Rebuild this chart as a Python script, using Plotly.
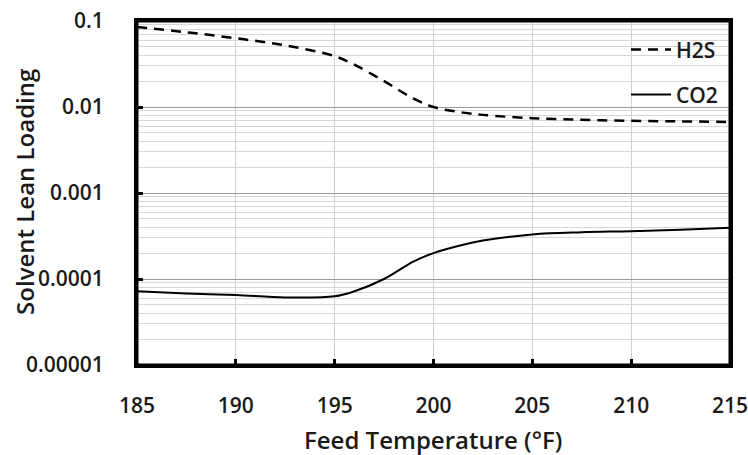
import plotly.graph_objects as go

temps = [185, 187.5, 190, 192.5, 195, 196, 197.5, 199, 200, 201.5, 202.5, 205, 207.5, 210, 212.5, 215]
h2s = [0.085, 0.074, 0.063, 0.052, 0.039, 0.031, 0.020, 0.0125, 0.0100, 0.0086, 0.0081, 0.0074, 0.0071, 0.0069, 0.0068, 0.0067]
co2 = [0.000072, 0.000068, 0.000065, 0.000061, 0.000063, 0.000072, 0.000100, 0.000160, 0.000200, 0.000250, 0.000280, 0.000330, 0.000350, 0.000360, 0.000375, 0.000395]

x_ticks = [185, 190, 195, 200, 205, 210, 215]
y_ticks = [0.00001, 0.0001, 0.001, 0.01, 0.1]
y_labels = ["0.00001", "0.0001", "0.001", "0.01", "0.1"]
x_title = "Feed Temperature (°F)"
y_title = "Solvent Lean Loading"

FAM = "Open Sans"
tickfont = dict(family=FAM, size=21, color="#1a1a1a", weight=600)
titlefont = dict(family=FAM, size=24, color="#1a1a1a", weight=600)

fig = go.Figure()
fig.add_trace(go.Scatter(x=temps, y=h2s, mode="lines", name="H2S",
                         line=dict(color="black", width=2.5, dash="10px,7px", shape="spline"),
                         legend="legend", showlegend=True))
fig.add_trace(go.Scatter(x=temps, y=co2, mode="lines", name="CO2",
                         line=dict(color="black", width=2, shape="spline"),
                         legend="legend2", showlegend=True))

frame = dict(color="black", width=3)
fig.update_layout(
    width=748, height=455,
    margin=dict(l=137, r=18, t=21, b=90, autoexpand=False),
    paper_bgcolor="white", plot_bgcolor="white",
    showlegend=True,
    legend=dict(x=0.8246, y=0.916, xanchor="left", yanchor="middle", itemwidth=40,
                bgcolor="rgba(0,0,0,0)", font=tickfont),
    legend2=dict(x=0.8246, y=0.785, xanchor="left", yanchor="middle", itemwidth=40,
                 bgcolor="rgba(0,0,0,0)", font=tickfont, visible=True),
    xaxis=dict(
        range=[185, 215], tickvals=x_ticks, ticks="inside", ticklen=6, tickwidth=3,
        tickcolor="black", showgrid=True, gridcolor="#d0d0d0", gridwidth=1,
        showline=True, linecolor="black", linewidth=3, mirror=True, zeroline=False,
        tickfont=tickfont, ticklabelstandoff=20, automargin=False, ticklabeloverflow="allow",
    ),
    yaxis=dict(
        type="log", range=[-5, -1], tickvals=y_ticks, ticktext=y_labels,
        ticks="inside", ticklen=6, tickwidth=3, tickcolor="black",
        showgrid=True, gridcolor="#9a9a9a", gridwidth=1,
        minor=dict(dtick="D1", showgrid=True, gridcolor="#d6d6d6", gridwidth=1, ticks=""),
        showline=True, linecolor="black", linewidth=3, mirror=True, zeroline=False,
        tickfont=tickfont, ticklabelstandoff=26, automargin=False, ticklabeloverflow="allow",
    ),
    shapes=[
        dict(type="line", xref="paper", yref="paper", x0=0, x1=1, y0=1, y1=1,
             line=frame, layer="above"),
        dict(type="line", xref="paper", yref="paper", x0=1, x1=1, y0=0, y1=1,
             line=frame, layer="above"),
        dict(type="line", xref="paper", yref="paper", x0=0, x1=1, y0=0, y1=0,
             line=frame, layer="above"),
        dict(type="line", xref="paper", yref="paper", x0=0, x1=0, y0=0, y1=1,
             line=frame, layer="above"),
    ],
    annotations=[
        dict(text=x_title, xref="paper", yref="paper", x=0.499, y=-0.218,
             xanchor="center", yanchor="middle", showarrow=False, font=titlefont),
        dict(text=y_title, xref="paper", yref="paper", x=-0.189, y=0.503,
             xanchor="center", yanchor="middle", textangle=-90, showarrow=False, font=titlefont),
    ],
)
fig.write_html("out.html", config={"displayModeBar": False},
               post_script="document.body.style.margin='0';document.body.style.overflow='hidden';")
